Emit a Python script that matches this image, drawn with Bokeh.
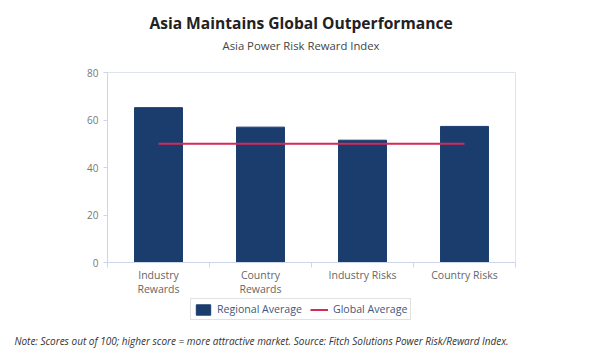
from bokeh.plotting import figure
from bokeh.layouts import column
from bokeh.models import Range1d, FixedTicker, Legend, LegendItem, ColumnDataSource, Label
from bokeh.embed import file_html
from bokeh.resources import INLINE

categories = ["Industry\nRewards", "Country\nRewards", "Industry Risks", "Country Risks"]
regional_average = [65.2, 57.0, 51.5, 57.3]
global_average = [50, 50, 50, 50]
y_ticks = [0, 20, 40, 60, 80]

title_text = "Asia Maintains Global Outperformance"
subtitle_text = "Asia Power Risk Reward Index"
note_text = ("Note: Scores out of 100; higher score = more attractive market. "
             "Source: Fitch Solutions Power Risk/Reward Index.")

FONT = "Open Sans"
W = 600
BAR_COLOR = "#1a3d6e"
LINE_COLOR = "#d42a58"

xs = list(range(1, len(categories) + 1))
src = ColumnDataSource(dict(x=xs, reg=regional_average, glob=global_average))


def blank(height):
    f = figure(width=W, height=height, output_backend="svg", toolbar_location=None,
               x_axis_location=None, y_axis_location=None,
               x_range=Range1d(100, 101), y_range=Range1d(100, 101),
               min_border=0, min_border_left=0, min_border_right=0,
               min_border_top=0, min_border_bottom=0, frame_align=False)
    f.outline_line_color = None
    f.grid.visible = False
    return f


# ---- header ----
p0 = blank(64)
p0.add_layout(Label(x=300.5, y=42, x_units="screen", y_units="screen", text=title_text,
                    text_font=FONT, text_font_style="bold", text_font_size="15.6px",
                    text_color="#222222", text_align="center", text_baseline="middle"))
p0.add_layout(Label(x=300.5, y=19, x_units="screen", y_units="screen", text=subtitle_text,
                    text_font=FONT, text_font_size="11.3px",
                    text_color="#444444", text_align="center", text_baseline="middle"))

# ---- main chart ----
p = figure(width=W, height=234, output_backend="svg", toolbar_location=None,
           x_range=Range1d(0.5, len(categories) + 0.5), y_range=Range1d(0, 80),
           min_border_left=107, min_border_right=85, min_border_top=8, min_border_bottom=36,
           frame_align=False)

p.vbar(x="x", top="reg", width=0.47, source=src, color=BAR_COLOR)
p.line(x="x", y="glob", source=src, line_color=LINE_COLOR, line_width=2)

p.xgrid.visible = False
p.ygrid.visible = False
p.outline_line_color = "#dfe3ea"

p.xaxis.ticker = FixedTicker(ticks=xs, minor_ticks=[i + 0.5 for i in range(0, len(categories) + 1)])
p.xaxis.major_label_overrides = {x: c for x, c in zip(xs, categories)}
p.xaxis.major_tick_line_color = None
p.xaxis.major_tick_out = 0
p.xaxis.major_tick_in = 0
p.xaxis.minor_tick_line_color = "#ccd6eb"
p.xaxis.minor_tick_out = 5
p.xaxis.minor_tick_in = 0
p.xaxis.axis_line_color = "#ccd6eb"
p.xaxis.major_label_text_font = FONT
p.xaxis.major_label_text_font_size = "10.5px"
p.xaxis.major_label_text_color = "#666666"
p.xaxis.major_label_text_line_height = 1.0
p.xaxis.major_label_standoff = 0
p.xaxis.axis_label_standoff = 0

p.yaxis.ticker = FixedTicker(ticks=y_ticks)
p.yaxis.axis_line_color = "#ccd6eb"
p.yaxis.major_tick_line_color = "#ccd6eb"
p.yaxis.major_tick_out = 4
p.yaxis.major_tick_in = 0
p.yaxis.minor_tick_line_color = None
p.yaxis.major_label_text_font = FONT
p.yaxis.major_label_text_font_size = "10px"
p.yaxis.major_label_text_color = "#777777"

# ---- footer: legend + note ----
p2 = blank(62)
leg_bars = p2.vbar(x="x", top="reg", width=0.47, source=src, color=BAR_COLOR)
leg_line = p2.line(x="x", y="glob", source=src, line_color=LINE_COLOR, line_width=2)
legend = Legend(items=[LegendItem(label="Regional Average", renderers=[leg_bars]),
                       LegendItem(label="Global Average", renderers=[leg_line])],
                orientation="horizontal", location=(190, 40))
legend.label_text_font = FONT
legend.label_text_font_size = "10.6px"
legend.label_text_color = "#45567a"
legend.border_line_color = "#c4c4c4"
legend.border_line_width = 1
legend.padding = 3
legend.spacing = 8
legend.glyph_width = 18
legend.glyph_height = 13
legend.label_standoff = 5
legend.margin = 0
legend.label_height = 14
p2.add_layout(legend, "center")
p2.add_layout(Label(x=261, y=20, x_units="screen", y_units="screen", text=note_text,
                    text_font=FONT, text_font_style="italic", text_font_size="10px",
                    text_color="#333333", text_align="center", text_baseline="middle"))

layout = column(p0, p, p2, spacing=0)
open("out.html", "w").write(file_html(layout, INLINE))
